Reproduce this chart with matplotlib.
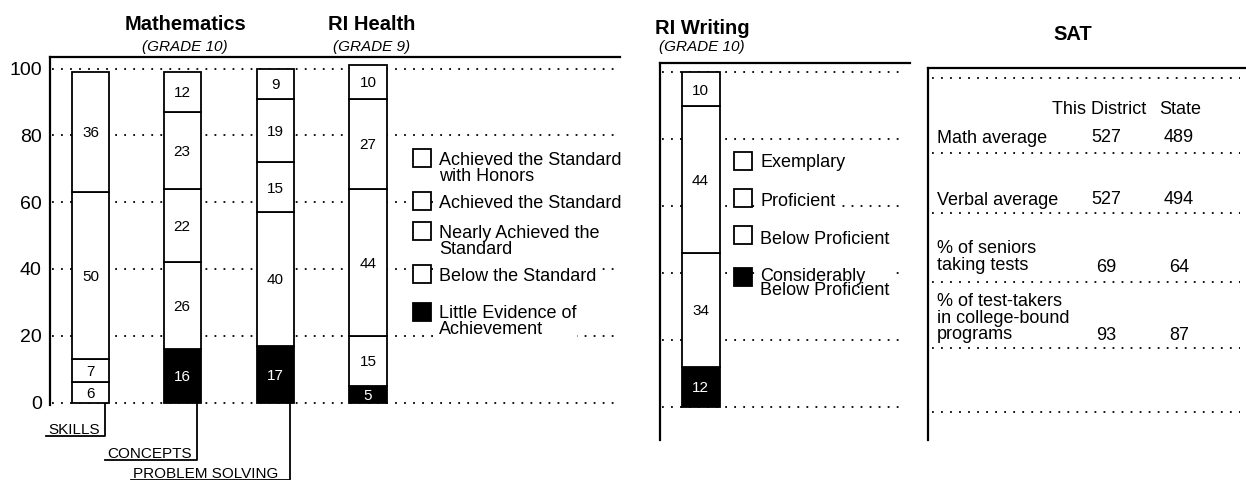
import matplotlib
matplotlib.use('Agg')
import matplotlib.pyplot as plt
from matplotlib.patches import Rectangle

plt.rcParams['font.family'] = ['Liberation Sans', 'DejaVu Sans']

W, H = 1246, 480

# --- data (bottom level first) ---
math_tests = ['SKILLS', 'CONCEPTS', 'PROBLEM SOLVING']
math_scores = [
    [0, 6, 7, 50, 36],
    [16, 26, 22, 23, 12],
    [17, 40, 15, 19, 9],
]
health_scores = [5, 15, 44, 27, 10]
standard_levels = ['Little Evidence of\nAchievement', 'Below the Standard',
                   'Nearly Achieved the\nStandard', 'Achieved the Standard',
                   'Achieved the Standard\nwith Honors']

writing_scores = [12, 34, 44, 10]
writing_levels = ['Considerably\nBelow Proficient', 'Below Proficient',
                  'Proficient', 'Exemplary']

sat_columns = ['This District', 'State']
sat_rows = ['Math average', 'Verbal average', '% of seniors\ntaking tests',
            '% of test-takers\nin college-bound\nprograms']
sat_district = [527, 527, 69, 93]
sat_state = [489, 494, 64, 87]

pct_ticks = [0, 20, 40, 60, 80, 100]

DOTS = (0, (1, 4))
fig = plt.figure(figsize=(W / 100, H / 100), dpi=100)


def px_axes(x0, y0, x1, y1):
    return fig.add_axes([x0 / W, 1 - y1 / H, (x1 - x0) / W, (y1 - y0) / H])


def stacked(ax, x, width, values):
    bottom = 0
    for i, v in enumerate(values):
        if v == 0:
            continue
        dark = i == 0
        ax.bar(x, v, width, bottom=bottom, color='black' if dark else 'white',
               edgecolor='black', linewidth=1.3, zorder=3)
        ax.text(x, bottom + v / 2, str(v), ha='center', va='center_baseline', fontsize=11,
                color='white' if dark else 'black', zorder=4)
        bottom += v


def panel_frame(ax, top_end, spine_bottom):
    for s in ['right', 'bottom']:
        ax.spines[s].set_visible(False)
    ax.spines['left'].set_linewidth(1.6)
    ax.spines['top'].set_linewidth(1.6)
    ax.spines['top'].set_bounds(ax.get_xlim()[0], top_end)
    ax.spines['left'].set_bounds(spine_bottom, ax.get_ylim()[1])
    ax.set_facecolor('none')
    ax.set_xticks([])


# --- Mathematics / Health panel ---
y100, y0 = 68.5, 402.5
k = (y0 - y100) / 100


def val(py):
    return (y0 - py) / k


ax = px_axes(50, 57, 630, 480)
ax.set_xlim(50, 630)
ax.set_ylim(val(480), val(57))
panel_frame(ax, 620, val(405))
ax.set_yticks(pct_ticks)
ax.tick_params(axis='y', length=0, pad=6, labelsize=14)
ax.hlines(pct_ticks, 52, 620, colors='black', linestyles=DOTS, lw=1.3, zorder=1)

math_x = [90.5, 182, 275]
bar_w = 37
for x, scores in zip(math_x, math_scores):
    stacked(ax, x, bar_w, scores)
stacked(ax, 368, 38, health_scores)

label_left = [48, 107, 133]
label_py = [428, 452, 472]
for x, name, left, py in zip(math_x, math_tests, label_left, label_py):
    cx = x + bar_w / 2 - 4
    uy = val(py + 8)
    ax.text(left, val(py), name, ha='left', va='center_baseline', fontsize=11)
    ax.plot([left - 2, cx, cx], [uy, uy, 0], color='black', lw=1.3, clip_on=False)

# --- Writing panel ---
m100, m0 = 72.5, 407
km = (m0 - m100) / 100


def mval(py):
    return (m0 - py) / km


ax2 = px_axes(660, 63, 925, 480)
ax2.set_xlim(660, 925)
ax2.set_ylim(mval(480), mval(63))
panel_frame(ax2, 910, mval(440))
ax2.set_yticks([])
ax2.hlines(pct_ticks, 662, 902, colors='black', linestyles=DOTS, lw=1.3, zorder=1)
stacked(ax2, 700.5, 38, writing_scores)

# --- SAT panel ---
ax3 = px_axes(928, 68, 1246, 480)
ax3.set_xlim(928, 1246)
ax3.set_ylim(480, 68)
for s in ['right', 'bottom']:
    ax3.spines[s].set_visible(False)
ax3.spines['left'].set_linewidth(1.6)
ax3.spines['top'].set_linewidth(1.6)
ax3.spines['left'].set_bounds(440, 68)
ax3.set_xticks([])
ax3.set_yticks([])
ax3.set_facecolor('none')
ax3.hlines([78, 153, 213, 282, 348, 412], 932, 1240, colors='black',
           linestyles=DOTS, lw=1.3)

ax3.text(1052, 107, sat_columns[0], ha='left', va='center_baseline', fontsize=13)
ax3.text(1159, 107, sat_columns[1], ha='left', va='center_baseline', fontsize=13)
row_first = [137, 199, 247, 300]
value_row = [135, 197, 265, 333]
for name, d, s, r, vr in zip(sat_rows, sat_district, sat_state, row_first, value_row):
    ax3.text(937, r - 7, name, ha='left', va='top', fontsize=13, linespacing=0.98)
    ax3.text(1106, vr, str(d), ha='center', va='center_baseline', fontsize=13)
    ax3.text(1179, vr, str(s), ha='center', va='center_baseline', fontsize=13)

# --- overlay: titles and legends ---
ov = fig.add_axes([0, 0, 1, 1])
ov.set_xlim(0, W)
ov.set_ylim(H, 0)
ov.axis('off')

titles = [('Mathematics', '(GRADE 10)', 185, 22, 45),
          ('RI Health', '(GRADE 9)', 372, 22, 45),
          ('RI Writing', '(GRADE 10)', 702, 27, 46)]
for t, g, x, ty, gy in titles:
    ov.text(x, ty, t, ha='center', va='center_baseline', fontsize=14.5, fontweight='bold')
    ov.text(x, gy, g, ha='center', va='center_baseline', fontsize=11, style='italic')
ov.text(1073, 32, 'SAT', ha='center', va='center_baseline', fontsize=14.5, fontweight='bold')


def legend(levels, box_x, text_x, box_cy, text_cy, spacing):
    n = len(levels)
    for i, lab in enumerate(levels):
        dark = i == 0
        r = n - 1 - i
        ov.add_patch(Rectangle((box_x, box_cy[r] - 9), 18, 18,
                               facecolor='black' if dark else 'white',
                               edgecolor='black', lw=1.3))
        ov.text(text_x, text_cy[r] - 7, lab, ha='left', va='top', fontsize=13,
                linespacing=spacing,
                bbox=dict(facecolor='white', edgecolor='none', pad=0.5))


legend(standard_levels, 413, 439, [158, 201, 231, 274, 312],
       [159, 202, 232, 275, 312], 0.95)
legend(writing_levels, 734, 760, [161, 198, 235, 277],
       [161, 200, 238, 275], 0.78)

fig.savefig('out.png', dpi=100)
